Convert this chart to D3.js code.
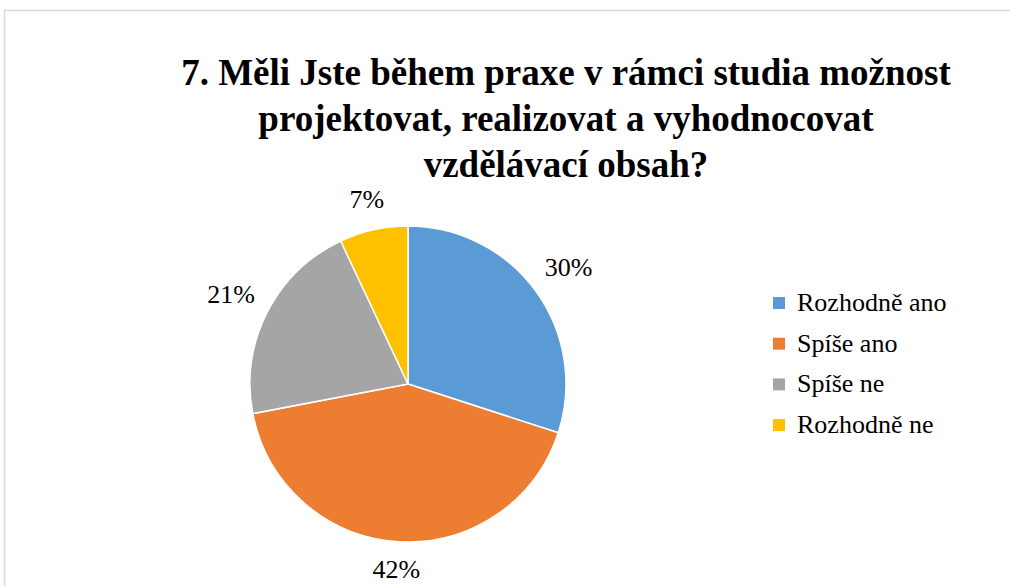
<!DOCTYPE html>
<html><head><meta charset="utf-8">
<script src="https://cdn.jsdelivr.net/npm/d3@7"></script>
</head><body style="margin:0;background:#fff">
<script>
const categories = ["Rozhodně ano", "Spíše ano", "Spíše ne", "Rozhodně ne"];
const values = [30, 42, 21, 7];
const colors = ["#5B9BD5", "#ED7D31", "#A5A5A5", "#FFC000"];
const titleLines = ["7. Měli Jste během praxe v rámci studia možnost", "projektovat, realizovat a vyhodnocovat", "vzdělávací obsah?"];

const FONT = '"Liberation Serif", "Times New Roman", Times, serif';
const W = 1010, H = 586;
const wrap = d3.select("body").append("div")
  .style("position", "relative").style("width", W + "px").style("height", H + "px")
  .style("font-family", FONT).style("color", "#000");
const svg = wrap.append("svg").attr("width", W).attr("height", H)
  .style("position", "absolute").style("left", "0px").style("top", "0px");
svg.append("path").attr("d", `M4.5,${H} V10.5 H${W}`).attr("fill", "none").attr("stroke", "#d9d9d9").attr("stroke-width", 1.5);

const cx = 408, cy = 384, r = 158;
const pie = d3.pie().sort(null).value(d => d);
const arcs = pie(values);
const arc = d3.arc().innerRadius(0).outerRadius(r);
const g = svg.append("g").attr("transform", `translate(${cx},${cy})`);
g.selectAll("path").data(arcs).join("path")
  .attr("d", arc).attr("fill", (d, i) => colors[i])
  .attr("stroke", "#fff").attr("stroke-width", 1.5).attr("stroke-linejoin", "round");

// title (HTML text)
wrap.append("div")
  .style("position", "absolute").style("left", "166px").style("width", "800px").style("top", "50px")
  .style("text-align", "center").style("font-weight", "bold").style("font-size", "37px").style("line-height", "46px")
  .style("white-space", "nowrap").style("font-family", FONT)
  .html(titleLines.join("<br>"));

const fmt = d3.format(".0%");
const total = d3.sum(values);
arcs.forEach(d => {
  const a = (d.startAngle + d.endAngle) / 2;
  const dx = Math.sin(a), dy = -Math.cos(a);
  const dist = r + 12 + Math.abs(dx) * 25 + Math.abs(dy) * 14;
  wrap.append("div")
    .style("position", "absolute").style("left", (cx + dx * dist) + "px").style("top", (cy + dy * dist + 1) + "px")
    .style("transform", "translate(-50%,-50%)").style("font-size", "26px").style("line-height", "30px")
    .style("white-space", "nowrap").style("font-family", FONT)
    .text(fmt(d.data / total));
});

categories.forEach((c, i) => {
  const y = 303 + i * 40.7;
  svg.append("rect").attr("x", 773).attr("y", y - 6).attr("width", 12).attr("height", 12).attr("fill", colors[i]);
  wrap.append("div")
    .style("position", "absolute").style("left", "797px").style("top", (y - 15) + "px")
    .style("font-size", "26px").style("line-height", "30px").style("white-space", "nowrap").style("font-family", FONT)
    .text(c);
});
</script>
</body></html>
